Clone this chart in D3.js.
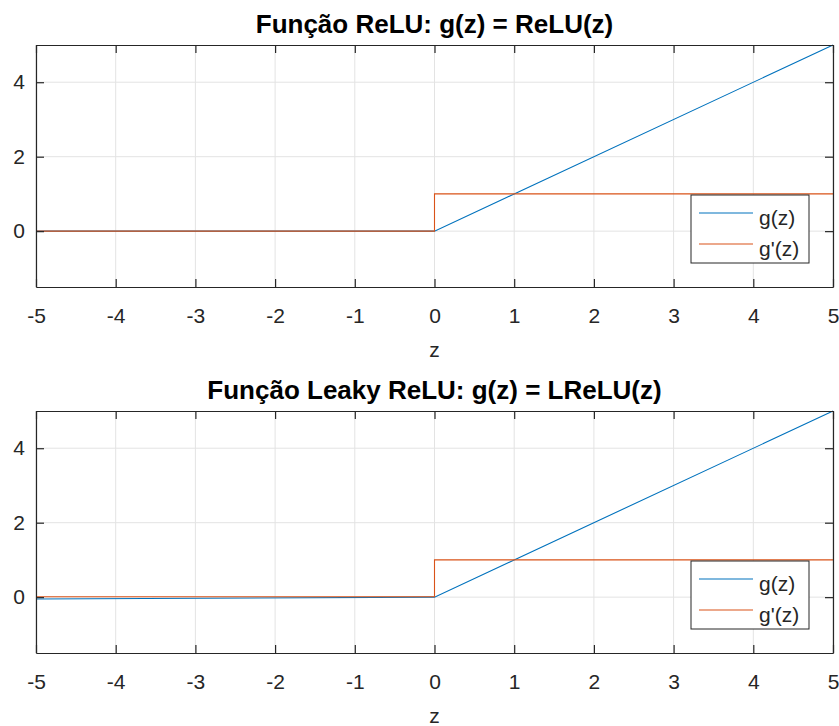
<!DOCTYPE html>
<html>
<head>
<meta charset="utf-8">
<script src="https://cdn.jsdelivr.net/npm/d3@7"></script>
<style>
  body { margin: 0; background: #fff; }
  text { font-family: "Liberation Sans", Arial, sans-serif; fill: #262626; }
</style>
</head>
<body>
<script>

var width = 839,
  height = 726;

// breakpoints of the piecewise-linear curves
var zReLU = [-5, 0, 5];
var gReLU = [0, 0, 5];
var zReLUd = [-5, 0, 0, 5];
var gReLUd = [0, 0, 1, 1];

var zLeaky = [-5, 0, 5];
var gLeaky = [-0.05, 0, 5];
var zLeakyd = [-5, 0, 0, 5];
var gLeakyd = [0.01, 0.01, 1, 1];

var xTicks = [-5, -4, -3, -2, -1, 0, 1, 2, 3, 4, 5];
var yTicks = [0, 2, 4];
var legendLabels = ["g(z)", "g'(z)"];
var colors = ["#0072BD", "#D95319"];

var svg = d3.select("body").append("svg")
  .attr("width", width)
  .attr("height", height);

svg.append("rect").attr("width", width).attr("height", height).attr("fill", "#fff");

function toPts(xs, ys) {
  return xs.map(function(x, i) { return [x, ys[i]]; });
}

// plain hyphen instead of unicode minus, like the original
var fmt = function(d) { return String(d); };

function panel(top, title, series) {
  var left = 36, right = 833, bottom = top + 242;

  var x = d3.scaleLinear().domain([-5, 5]).range([left, right]);
  var y = d3.scaleLinear().domain([-1.5, 5]).range([bottom, top]);

  var g = svg.append("g");

  // grid
  g.selectAll(".gx").data(xTicks).enter().append("line")
    .attr("x1", function(d){return x(d)}).attr("x2", function(d){return x(d)})
    .attr("y1", top).attr("y2", bottom)
    .attr("stroke", "#e3e3e3").attr("stroke-width", 1);
  g.selectAll(".gy").data(yTicks).enter().append("line")
    .attr("x1", left).attr("x2", right)
    .attr("y1", function(d){return y(d)}).attr("y2", function(d){return y(d)})
    .attr("stroke", "#e3e3e3").attr("stroke-width", 1);

  // curves
  var line = d3.line().x(function(d){return x(d[0])}).y(function(d){return y(d[1])});
  series.forEach(function(s, i) {
    g.append("path")
      .attr("d", line(s))
      .attr("fill", "none")
      .attr("stroke", colors[i])
      .attr("stroke-width", 1.1);
  });

  // axes (box with inward ticks)
  var ax = g.append("g").attr("transform", "translate(0," + bottom + ")")
    .call(d3.axisBottom(x).tickValues(xTicks).tickSizeInner(-8).tickSizeOuter(0).tickPadding(20)
      .tickFormat(fmt));
  var axTop = g.append("g").attr("transform", "translate(0," + top + ")")
    .call(d3.axisTop(x).tickValues(xTicks).tickSizeInner(-8).tickSizeOuter(0).tickFormat(""));
  var ay = g.append("g").attr("transform", "translate(" + left + ",0)")
    .call(d3.axisLeft(y).tickValues(yTicks).tickSizeInner(-8).tickSizeOuter(0).tickPadding(11)
      .tickFormat(fmt));
  var ayR = g.append("g").attr("transform", "translate(" + right + ",0)")
    .call(d3.axisRight(y).tickValues(yTicks).tickSizeInner(-8).tickSizeOuter(0).tickFormat(""));

  [ax, axTop, ay, ayR].forEach(function(a) {
    a.select(".domain").attr("stroke", "#262626").attr("stroke-width", 1.2);
    a.selectAll(".tick line").attr("stroke", "#262626").attr("stroke-width", 1.2);
    a.selectAll(".tick text").style("font-size", "21px").attr("fill", "#262626");
  });
  ax.selectAll(".tick text").attr("dy", null).attr("y", 36);

  // x label
  g.append("text")
    .attr("x", x(0)).attr("y", bottom + 70)
    .attr("text-anchor", "middle")
    .style("font-size", "21px")
    .text("z");

  // title
  g.append("text")
    .attr("x", x(0)).attr("y", top - 12)
    .attr("text-anchor", "middle")
    .style("font-size", "26px").style("font-weight", "bold")
    .style("fill", "#000")
    .text(title);

  // legend
  var lx = 691, ly = top + 150, lw = 118, lh = 68;
  var leg = g.append("g");
  leg.append("rect")
    .attr("x", lx).attr("y", ly).attr("width", lw).attr("height", lh)
    .attr("fill", "#fff").attr("stroke", "#262626").attr("stroke-width", 1);
  legendLabels.forEach(function(lab, i) {
    var ry = ly + 18 + i * 31;
    leg.append("line")
      .attr("x1", lx + 8).attr("x2", lx + 62)
      .attr("y1", ry).attr("y2", ry)
      .attr("stroke", colors[i]).attr("stroke-width", 1.1);
    leg.append("text")
      .attr("x", lx + 68).attr("y", ry + 12)
      .style("font-size", "21px")
      .text(lab);
  });
}

panel(45, "Função ReLU: g(z) = ReLU(z)",
  [toPts(zReLU, gReLU), toPts(zReLUd, gReLUd)]);
panel(411, "Função Leaky ReLU: g(z) = LReLU(z)",
  [toPts(zLeaky, gLeaky), toPts(zLeakyd, gLeakyd)]);

</script>
</body>
</html>
